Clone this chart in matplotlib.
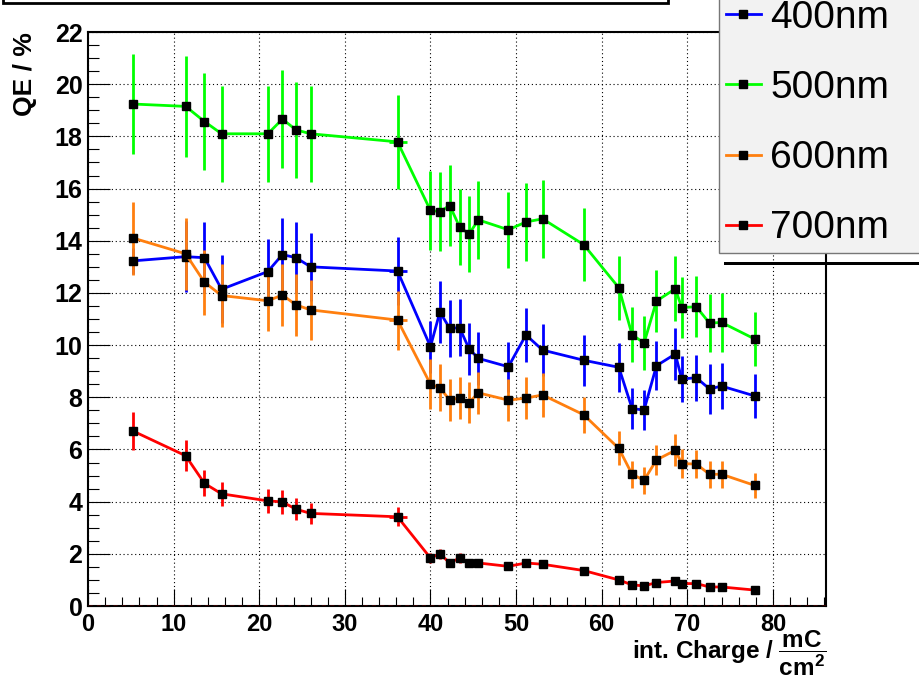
import numpy as np
import matplotlib
matplotlib.use("Agg")
import matplotlib.pyplot as plt
from matplotlib.ticker import MultipleLocator
from matplotlib.patches import Rectangle


# integrated charge per measurement (mC/cm^2)
charge = [5.3, 11.4, 13.6, 15.6, 21.0, 22.7, 24.3, 26.0, 36.15,
          40.0, 41.1, 42.25, 43.4, 44.5, 45.6, 49.1, 51.15, 53.1, 57.9,
          62.0, 63.55, 64.95, 66.4, 68.6, 69.35, 71.05, 72.6, 74.0, 77.9]
charge_err = [0, 0, 0, 0, 0, 0, 0, 0, 1.05,
              0, 0, 0, 0, 0, 0, 0, 0, 0, 0,
              0, 0, 0, 0, 0, 0, 0, 0, 0, 0]

qe_400 = [13.23, 13.39, 13.35, 12.14, 12.82, 13.47, 13.35, 13.0, 12.84,
          9.94, 11.27, 10.64, 10.67, 9.86, 9.49, 9.17, 10.39, 9.81, 9.42,
          9.15, 7.57, 7.51, 9.21, 9.66, 8.7, 8.75, 8.32, 8.43, 8.05]
err_400 = [0.5, 1.35, 1.35, 1.3, 1.23, 1.42, 1.35, 1.31, 1.3,
           1.0, 1.17, 1.09, 1.09, 1.0, 1.0, 0.95, 1.05, 1.0, 0.98,
           0.95, 0.77, 0.77, 0.93, 0.99, 0.89, 0.89, 0.96, 0.87, 0.83]

qe_500 = [19.24, 19.15, 18.57, 18.1, 18.1, 18.66, 18.25, 18.1, 17.79,
          15.16, 15.12, 15.35, 14.53, 14.26, 14.8, 14.42, 14.72, 14.84, 13.85,
          12.2, 10.4, 10.08, 11.69, 12.16, 11.44, 11.47, 10.84, 10.87, 10.23]
err_500 = [1.92, 1.93, 1.87, 1.83, 1.83, 1.88, 1.83, 1.83, 1.8,
           1.53, 1.53, 1.57, 1.47, 1.44, 1.5, 1.46, 1.49, 1.5, 1.41,
           1.22, 1.06, 1.04, 1.2, 1.25, 1.17, 1.17, 1.12, 1.12, 1.04]

qe_600 = [14.1, 13.5, 12.41, 11.9, 11.7, 11.92, 11.54, 11.35, 10.96,
          8.5, 8.37, 7.89, 7.98, 7.8, 8.17, 7.89, 7.97, 8.09, 7.33,
          6.04, 5.05, 4.82, 5.6, 5.97, 5.46, 5.44, 5.05, 5.05, 4.62]
err_600 = [1.4, 1.37, 1.25, 1.2, 1.17, 1.2, 1.18, 1.15, 1.13,
           0.96, 0.9, 0.8, 0.8, 0.8, 0.8, 0.8, 0.8, 0.84, 0.69,
           0.65, 0.52, 0.52, 0.59, 0.61, 0.55, 0.55, 0.52, 0.52, 0.49]

qe_700 = [6.7, 5.76, 4.7, 4.3, 4.03, 3.99, 3.71, 3.55, 3.42,
          1.84, 2.0, 1.65, 1.84, 1.65, 1.65, 1.52, 1.65, 1.6, 1.36,
          1.0, 0.81, 0.77, 0.9, 0.96, 0.86, 0.86, 0.73, 0.73, 0.61]
err_700 = [0.72, 0.6, 0.5, 0.47, 0.45, 0.45, 0.42, 0.41, 0.36,
           0.18, 0.2, 0.17, 0.18, 0.17, 0.17, 0.15, 0.15, 0.15, 0.12,
           0.1, 0.1, 0.1, 0.1, 0.1, 0.1, 0.1, 0.1, 0.1, 0.1]

labels = ["400nm", "500nm", "600nm", "700nm"]
colors = ["#0000ff", "#00ff00", "#ff7f0e", "#ff0000"]


plt.rcParams["font.family"] = ["Liberation Sans", "DejaVu Sans"]
plt.rcParams["mathtext.fontset"] = "custom"
plt.rcParams["mathtext.rm"] = "Liberation Sans:bold"
plt.rcParams["mathtext.it"] = "Liberation Sans:bold"
plt.rcParams["mathtext.bf"] = "Liberation Sans:bold"

fig = plt.figure(figsize=(9.2, 6.8), dpi=100)
ax = fig.add_axes([0.0957, 0.1088, 0.8021, 0.8441])

series = [(qe_400, err_400), (qe_500, err_500), (qe_600, err_600), (qe_700, err_700)]
handles = []
for (qe, err), col in zip(series, colors):
    eb = ax.errorbar(charge, qe, yerr=err, xerr=charge_err, fmt="-s", color=col,
                     ecolor=col, mfc="black", mec="black", ms=5.8, lw=2.0,
                     elinewidth=2.0, capsize=0)
    handles.append(eb[0])

ax.axhline(0, color="red", ls=(0, (3, 3)), lw=1, zorder=3)

ax.set_xlim(0, 86.2)
ax.set_ylim(0, 22)
ax.xaxis.set_major_locator(MultipleLocator(10))
ax.xaxis.set_minor_locator(MultipleLocator(2))
ax.yaxis.set_major_locator(MultipleLocator(2))
ax.yaxis.set_minor_locator(MultipleLocator(0.5))
ax.grid(True, which="major", color="black", ls=(0, (1, 2.5)), lw=0.8)

ax.tick_params(axis="y", which="major", direction="in", length=15.8, width=0.8, pad=4)
ax.tick_params(axis="y", which="minor", direction="in", length=7.9, width=0.8)
ax.tick_params(axis="x", which="major", direction="in", length=12.2, width=0.8, pad=5)
ax.tick_params(axis="x", which="minor", direction="in", length=6.5, width=0.8)
for t in ax.get_yticklabels():
    t.set_fontsize(18)
    t.set_fontweight("bold")
for t in ax.get_xticklabels():
    t.set_fontsize(17)
    t.set_fontweight("bold")
for s in ax.spines.values():
    s.set_linewidth(1.5)

ax.set_ylabel("QE / %", fontsize=19, fontweight="bold", loc="top", labelpad=13)
ax.set_xlabel(r"int. Charge / $\dfrac{\mathrm{mC}}{\mathrm{cm^{2}}}$", fontsize=17.5,
              fontweight="bold", loc="right", labelpad=-5.5)

# legend box runs past the right and top edges of the canvas
leg = ax.legend(handles, labels, loc="lower left", mode="expand",
                bbox_to_anchor=(719 / 920, 427 / 680, 0.3, 0.5), bbox_transform=fig.transFigure,
                borderaxespad=0, fontsize=28, handlelength=0.9, handletextpad=0.25,
                labelspacing=0.88, borderpad=0.17, fancybox=False, framealpha=1,
                facecolor="#f2f2f2", edgecolor="#777777")
leg.get_frame().set_linewidth(1)

# shadow strip under the legend box
fig.canvas.draw()
bb = leg.get_window_extent()
ax.add_patch(Rectangle((bb.x0 + 5, bb.y0 - 12), bb.width, 3, transform=None,
                       facecolor="black", edgecolor="none", clip_on=False, zorder=6))

# title pave, mostly above the canvas
fig.patches.append(Rectangle((3 / 920, 677 / 680), 665 / 920, 0.1, transform=fig.transFigure,
                             facecolor="white", edgecolor="black", lw=2))

fig.savefig("out.png", dpi=100)
